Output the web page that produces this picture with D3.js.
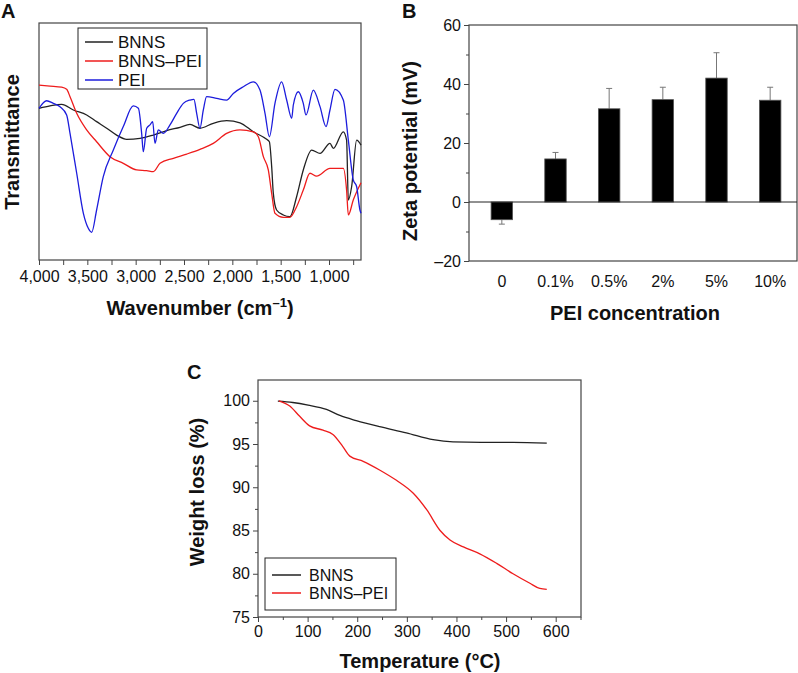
<!DOCTYPE html>
<html>
<head>
<meta charset="utf-8">
<script src="https://cdn.jsdelivr.net/npm/d3@7"></script>
<style>
  body { margin: 0; background: #fff; }
  text { font-family: "Liberation Sans", Arial, sans-serif; fill: #111; }
  .lab { font-weight: bold; font-size: 20px; }
  .tick text { font-size: 16px; fill: #111; }
</style>
</head>
<body>
<div id="chart"></div>
<script>
let width = 798, height = 673;

// ---------- data: A, FTIR (wavenumber, transmittance a.u.) ----------
const ftirNames = ["BNNS", "BNNS–PEI", "PEI"];
const ftirColors = ["#222222", "#ee1c1c", "#1c1cdc"];
const ftirBNNS = [[4000,64.0],[3886,65.0],[3766,65.7],[3645,63.3],[3507,61.2],[3404,58.4],[3300,55.6],[3197,52.7],[3093,50.9],[2955,51.3],[2817,52.7],[2679,54.6],[2541,56.0],[2438,57.2],[2335,55.6],[2197,57.7],[2059,58.8],[1921,57.9],[1783,54.1],[1645,50.9],[1617,49.9],[1593,39.4],[1576,28.1],[1542,21.1],[1473,19.0],[1404,18.3],[1335,26.7],[1266,38.0],[1179,46.4],[1093,45.0],[990,49.2],[955,47.1],[852,54.1],[818,50.6],[800,25.3],[766,30.9],[714,50.6],[669,48.5]];
const ftirBNNSPEI = [[4000,73.8],[3886,73.4],[3766,72.9],[3714,72.0],[3679,68.9],[3610,61.9],[3507,54.9],[3404,49.9],[3266,43.6],[3128,40.8],[2990,38.0],[2886,37.7],[2817,37.3],[2748,40.8],[2610,42.9],[2472,44.7],[2335,46.7],[2197,49.2],[2059,53.4],[1921,54.9],[1783,54.1],[1731,52.0],[1679,43.6],[1628,38.0],[1593,28.1],[1559,19.7],[1473,18.0],[1404,18.0],[1335,22.5],[1266,29.5],[1197,36.6],[1128,35.4],[990,38.7],[852,38.7],[818,29.5],[800,19.0],[749,25.3],[669,32.6]];
const ftirPEI = [[4000,64.0],[3921,67.2],[3852,66.1],[3783,64.7],[3714,61.2],[3679,53.4],[3610,36.6],[3541,19.7],[3490,13.4],[3455,11.7],[3404,21.1],[3335,35.2],[3231,46.4],[3128,56.3],[3024,65.0],[2972,64.0],[2938,53.4],[2921,45.7],[2886,55.6],[2852,57.0],[2824,58.4],[2800,49.2],[2766,54.9],[2714,53.4],[2645,57.0],[2576,61.9],[2507,66.1],[2438,67.5],[2397,67.8],[2369,61.9],[2335,55.6],[2300,63.3],[2266,68.9],[2162,68.2],[2059,67.5],[1990,70.3],[1886,73.1],[1783,75.2],[1714,71.7],[1662,61.9],[1617,52.0],[1559,66.1],[1490,75.2],[1438,67.5],[1386,59.8],[1369,65.4],[1317,71.0],[1266,66.1],[1238,61.2],[1162,71.7],[1093,64.7],[1031,56.3],[990,63.3],[938,72.0],[852,67.5],[800,50.6],[749,33.8],[714,30.9],[680,21.1],[669,19.7]];
const ftirTicks = [4000,3750,3500,3250,3000,2750,2500,2250,2000,1750,1500,1250,1000,750];

// ---------- data: B, zeta potential ----------
const peiConc = ["0", "0.1%", "0.5%", "2%", "5%", "10%"];
const zetaMean = [-6.0, 14.6, 31.6, 34.7, 42.0, 34.5];
const zetaErr = [1.5, 2.2, 6.9, 4.2, 8.6, 4.4];
const zetaTicks = [-20, 0, 20, 40, 60];
const zetaMinor = [-10, 10, 30, 50];

// ---------- data: C, TGA (temperature, weight %) ----------
const tgaNames = ["BNNS", "BNNS–PEI"];
const tgaColors = ["#222222", "#ee1c1c"];
const tgaBNNS = [[40,99.95],[70,99.8],[101,99.5],[138,99.0],[165,98.3],[198,97.7],[245,97.0],[299,96.3],[353,95.5],[393,95.25],[450,95.2],[514,95.2],[582,95.1]];
const tgaBNNSPEI = [[42,100],[64,99.4],[84,98.2],[104,97.1],[131,96.6],[151,96.1],[171,94.7],[185,93.6],[212,93.0],[245,92.0],[279,90.8],[313,89.3],[340,87.4],[367,85.0],[387,83.9],[414,83.1],[447,82.3],[481,81.2],[514,80.0],[548,78.9],[568,78.3],[582,78.2]];
const tgaXTicks = [0,100,200,300,400,500,600];
const tgaXMinor = [50,150,250,350,450,550,650];
const tgaYTicks = [75,80,85,90,95,100];
const tgaYMinor = [77.5,82.5,87.5,92.5,97.5];

const svg = d3.select("#chart")
    .append("svg")
    .attr("width", width)
    .attr("height", height);

const dash = v => (v < 0 ? "–" + Math.abs(v) : "" + v);

function frame(x0, y0, x1, y1) {
  svg.append("rect")
    .attr("x", x0).attr("y", y0)
    .attr("width", x1 - x0).attr("height", y1 - y0)
    .attr("fill", "none").attr("stroke", "#444").attr("stroke-width", 1.2);
}

function styleAxis(g) {
  g.select(".domain").remove();
  g.selectAll(".tick line").attr("stroke", "#444");
}

// ================= Panel A =================
const ax = d3.scaleLinear().domain([4000, 669]).range([39, 361]);
const ay = d3.scaleLinear().domain([0, 100]).range([260, 23]);

frame(39, 23, 361, 260);

svg.append("g")
  .attr("transform", "translate(0,260)")
  .call(d3.axisBottom(ax).tickValues(ftirTicks).tickSize(5).tickPadding(6)
    .tickFormat(d => d % 500 === 0 ? d3.format(",")(d) : ""))
  .call(styleAxis);

const ftirLine = d3.line().x(d => ax(d[0])).y(d => ay(d[1])).curve(d3.curveMonotoneX);
[ftirBNNS, ftirBNNSPEI, ftirPEI].forEach((s, i) => {
  svg.append("path").datum(s)
    .attr("d", ftirLine)
    .attr("fill", "none")
    .attr("stroke", ftirColors[i])
    .attr("stroke-width", 1.3);
});

svg.append("rect").attr("x", 78).attr("y", 28).attr("width", 129).attr("height", 61)
  .attr("fill", "#fff").attr("stroke", "#222").attr("stroke-width", 1);
ftirNames.forEach((n, i) => {
  const yy = 42 + i * 19;
  svg.append("line").attr("x1", 85).attr("x2", 113).attr("y1", yy).attr("y2", yy)
    .attr("stroke", ftirColors[i]).attr("stroke-width", 1.5);
  svg.append("text").attr("x", 118).attr("y", yy + 6).text(n).style("font-size", "17px");
});

svg.append("text").attr("class", "lab").attr("x", 1).attr("y", 18).text("A");
svg.append("text").attr("class", "lab")
  .attr("transform", "translate(19,142) rotate(-90)")
  .attr("text-anchor", "middle").text("Transmittance");
const xl = svg.append("text").attr("class", "lab").attr("x", 200).attr("y", 315).attr("text-anchor", "middle");
xl.append("tspan").text("Wavenumber (cm");
xl.append("tspan").text("–1").attr("dy", -8).style("font-size", "13px");
xl.append("tspan").text(")").attr("dy", 8);

// ================= Panel B =================
const bx = d3.scaleBand().domain(peiConc).range([475, 797]).paddingInner(0.6).paddingOuter(0.3);
const by = d3.scaleLinear().domain([-20, 60]).range([261, 25]);

frame(469, 25, 797, 261);

svg.append("g")
  .attr("transform", "translate(469,0)")
  .call(d3.axisLeft(by).tickValues(zetaMinor).tickSize(3).tickFormat(""))
  .call(styleAxis);
svg.append("g")
  .attr("transform", "translate(469,0)")
  .call(d3.axisLeft(by).tickValues(zetaTicks).tickSize(5).tickPadding(3).tickFormat(dash))
  .call(styleAxis);

svg.append("g")
  .attr("transform", "translate(0,261)")
  .call(d3.axisBottom(bx).tickSize(0).tickPadding(15))
  .call(styleAxis);

// error bars
const errG = svg.append("g").attr("stroke", "#777").attr("stroke-width", 1);
peiConc.forEach((c, i) => {
  const cx = bx(c) + bx.bandwidth() / 2;
  const end = zetaMean[i] < 0 ? zetaMean[i] - zetaErr[i] : zetaMean[i] + zetaErr[i];
  errG.append("line").attr("x1", cx).attr("x2", cx).attr("y1", by(zetaMean[i])).attr("y2", by(end));
  errG.append("line").attr("x1", cx - 3).attr("x2", cx + 3).attr("y1", by(end)).attr("y2", by(end));
});

svg.append("g")
  .selectAll("rect")
  .data(peiConc)
  .join("rect")
  .attr("x", d => bx(d))
  .attr("width", bx.bandwidth())
  .attr("y", (d, i) => by(Math.max(0, zetaMean[i])))
  .attr("height", (d, i) => Math.abs(by(zetaMean[i]) - by(0)))
  .attr("fill", "#000")
  .attr("stroke", "#555")
  .attr("stroke-width", 0.8);

svg.append("line").attr("x1", 469).attr("x2", 797).attr("y1", by(0)).attr("y2", by(0))
  .attr("stroke", "#222").attr("stroke-width", 1);

svg.append("text").attr("class", "lab").attr("x", 402).attr("y", 18).text("B");
svg.append("text").attr("class", "lab")
  .attr("transform", "translate(417,151) rotate(-90)")
  .attr("text-anchor", "middle").text("Zeta potential (mV)");
svg.append("text").attr("class", "lab").attr("x", 635).attr("y", 320)
  .attr("text-anchor", "middle").text("PEI concentration");

// ================= Panel C =================
const cx = d3.scaleLinear().domain([0, 651]).range([258, 581]);
const cy = d3.scaleLinear().domain([75, 102.4]).range([617, 380]);

frame(258, 380, 581, 617);

svg.append("g").attr("transform", "translate(0,617)")
  .call(d3.axisBottom(cx).tickValues(tgaXMinor).tickSize(3).tickFormat(""))
  .call(styleAxis);
svg.append("g").attr("transform", "translate(0,617)")
  .call(d3.axisBottom(cx).tickValues(tgaXTicks).tickSize(5).tickPadding(4))
  .call(styleAxis);
svg.append("g").attr("transform", "translate(258,0)")
  .call(d3.axisLeft(cy).tickValues(tgaYMinor).tickSize(3).tickFormat(""))
  .call(styleAxis);
svg.append("g").attr("transform", "translate(258,0)")
  .call(d3.axisLeft(cy).tickValues(tgaYTicks).tickSize(5).tickPadding(3))
  .call(styleAxis);

const tgaLine = d3.line().x(d => cx(d[0])).y(d => cy(d[1])).curve(d3.curveMonotoneX);
[tgaBNNS, tgaBNNSPEI].forEach((s, i) => {
  svg.append("path").datum(s)
    .attr("d", tgaLine)
    .attr("fill", "none")
    .attr("stroke", tgaColors[i])
    .attr("stroke-width", 1.3);
});

svg.append("rect").attr("x", 265).attr("y", 558).attr("width", 131).attr("height", 52)
  .attr("fill", "#fff").attr("stroke", "#222").attr("stroke-width", 1);
tgaNames.forEach((n, i) => {
  const yy = 575 + i * 18;
  svg.append("line").attr("x1", 272).attr("x2", 301).attr("y1", yy).attr("y2", yy)
    .attr("stroke", tgaColors[i]).attr("stroke-width", 1.5);
  svg.append("text").attr("x", 309).attr("y", yy + 6).text(n).style("font-size", "16px");
});

svg.append("text").attr("class", "lab").attr("x", 187).attr("y", 379).text("C");
svg.append("text").attr("class", "lab")
  .attr("transform", "translate(204,492) rotate(-90)")
  .attr("text-anchor", "middle").text("Weight loss (%)");
svg.append("text").attr("class", "lab").attr("x", 420).attr("y", 668)
  .attr("text-anchor", "middle").text("Temperature (°C)");
</script>
</body>
</html>
